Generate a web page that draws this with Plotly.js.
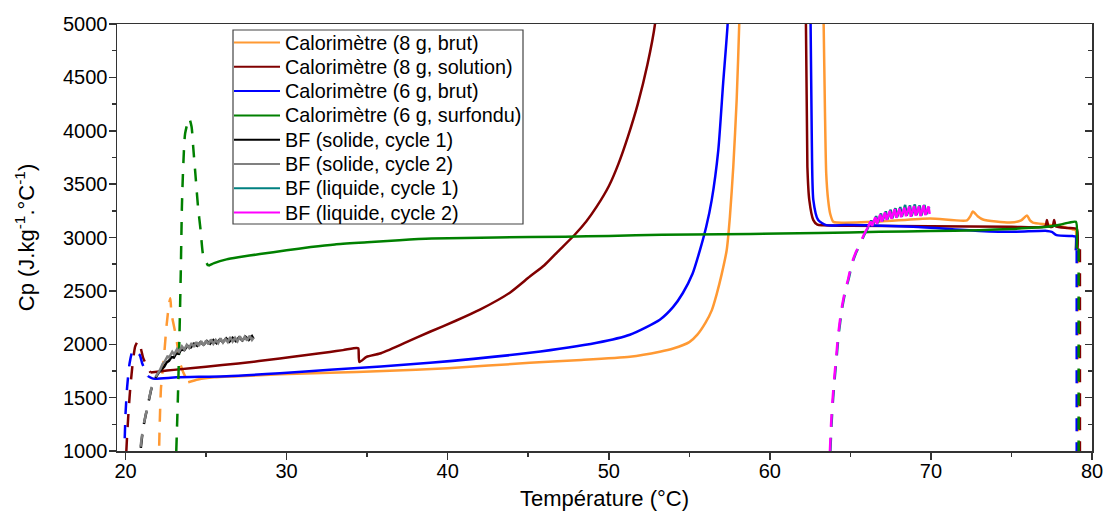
<!DOCTYPE html>
<html><head><meta charset="utf-8">
<script src="https://cdn.plot.ly/plotly-3.0.1.min.js"></script>
<style>html,body{margin:0;padding:0;background:#fff;} #chart{width:1103px;height:519px;}</style>
</head><body><div id="chart"></div>
<script>
// ---------- DATA ----------
const seriesNames = [
  "Calorimètre (8 g, brut)",
  "Calorimètre (8 g, solution)",
  "Calorimètre (6 g, brut)",
  "Calorimètre (6 g, surfondu)",
  "BF (solide, cycle 1)",
  "BF (solide, cycle 2)",
  "BF (liquide, cycle 1)",
  "BF (liquide, cycle 2)"
];
const seriesColors = ["#ff9933", "#800000", "#0000ff", "#008000", "#000000", "#808080", "#008080", "#ff00ff"];

// Calorimètre (8 g, brut)
const orangeDashX = [22.09, 22.12, 22.2, 22.3, 22.38, 22.55, 22.71, 22.78, 22.85, 23.06, 23.27, 23.37, 23.58, 23.89];
const orangeDashY = [1050, 1250, 1588, 1750, 1870, 2180, 2385, 2430, 2290, 2130, 1944, 1832, 1738, 1644];
const orangeX = [23.89, 24.5, 25.5, 27, 29.58, 32.69, 36, 40, 45.1, 48, 51.31, 53.17, 54, 55, 55.5, 56, 56.4, 56.7, 57.0, 57.32, 57.52, 57.73, 57.94, 58.1, 58.25,
  63.2, 63.34, 63.42, 63.5, 63.62, 63.75, 63.94, 64.16, 66.83, 69.94, 72.24, 72.45, 72.6, 72.9, 73.23, 74.9, 75.6, 75.96, 76.15, 76.33, 77.2, 78.2, 78.82, 78.98, 79.0];
const orangeY = [1644, 1670, 1690, 1700, 1719, 1732, 1750, 1775, 1826, 1850, 1883, 1930, 1960, 2020, 2090, 2200, 2320, 2470, 2650, 2881, 3194, 3663, 4288, 5000, 6000,
  6000, 5000, 4200, 3600, 3350, 3220, 3147, 3140, 3150, 3178, 3160, 3200, 3244, 3200, 3169, 3140, 3160, 3207, 3160, 3140, 3122, 3100, 3075, 3070, 2880];
const orangeEndX = [79.12, 79.12];
const orangeEndY = [2880, 1000];

// Calorimètre (8 g, solution)
const redDashX = [20.05, 20.1, 20.2, 20.3, 20.45, 20.6, 20.78, 20.95, 21.1, 21.3, 21.55];
const redDashY = [1000, 1150, 1400, 1600, 1830, 1980, 2031, 1960, 1870, 1803, 1735];
const redX = [21.55, 22.1, 23, 25, 27, 29.58, 31, 32.69, 33.5, 34.34, 34.45, 34.52, 34.96, 35.79, 37.3, 38.9, 40.5, 42.0, 43.86, 45.1, 46.0, 46.78, 47.9, 48.6, 49.26, 50.0, 50.6, 51.2, 51.8, 52.4, 52.87, 53.1,
  62.1, 62.24, 62.33, 62.45, 62.7, 62.95, 63.3, 65, 70, 75, 77.1, 77.2, 77.3, 77.55, 77.65, 77.75, 78.5, 79.05, 79.1];
const redY = [1735, 1745, 1760, 1790, 1820, 1866, 1895, 1928, 1945, 1966, 1962, 1834, 1881, 1913, 2010, 2117, 2220, 2324, 2483, 2634, 2740, 2859, 3028, 3150, 3291, 3480, 3690, 3950, 4250, 4620, 5000, 5400,
  5400, 5000, 3663, 3350, 3163, 3120, 3115, 3110, 3105, 3100, 3105, 3165, 3105, 3100, 3165, 3105, 3090, 3080, 2890];
const redEndX = [79.25, 79.25];
const redEndY = [2890, 1000];

// Calorimètre (6 g, brut)
const blueDashX = [19.95, 20.0, 20.1, 20.25, 20.45, 20.6, 20.89, 21.03, 21.16, 21.3, 21.4];
const blueDashY = [1120, 1350, 1600, 1820, 1945, 1940, 1897, 1822, 1775, 1728, 1700];
const blueX = [21.4, 21.71, 23.17, 26.27, 29.58, 32.69, 38.9, 45.1, 49.26, 51.31, 53.17, 54, 54.6, 55.2, 55.66, 56.05, 56.39, 56.8, 57.1, 57.38, 57.5,
  62.45, 62.53, 62.6, 62.7, 63.0, 63.5, 64.77, 68.9, 73.0, 75.1, 77.2, 77.5, 77.8, 78.8, 78.98, 79.0];
const blueY = [1700, 1678, 1690, 1700, 1728, 1760, 1826, 1920, 2014, 2089, 2230, 2350, 2480, 2660, 2881, 3100, 3350, 3819, 4444, 5000, 5500,
  5500, 5000, 3980, 3350, 3163, 3116, 3116, 3100, 3062, 3053, 3062, 3053, 3022, 3013, 3010, 2880];
const blueEndX = [79.05, 79.05];
const blueEndY = [2880, 1000];

// Calorimètre (6 g, surfondu)
const greenDashX = [23.15, 23.25, 23.35, 23.43, 23.5, 23.58, 23.7, 23.95, 24.1, 24.2, 24.35, 24.5, 24.66, 24.8, 24.92, 25.13];
const greenDashY = [1000, 1500, 2100, 2680, 3290, 3660, 3975, 4116, 4037, 3850, 3569, 3287, 3069, 2850, 2794, 2734];
const greenX = [25.13, 25.5, 26.27, 27, 28.34, 30, 31.5, 33, 35, 37, 39, 43, 47.3, 50, 53.3, 57, 60.63, 63, 66.8, 70, 73.0, 75, 77.2, 78.0, 78.6, 79.0, 79.05];
const greenY = [2734, 2760, 2795, 2815, 2845, 2880, 2910, 2935, 2955, 2975, 2990, 3000, 3008, 3015, 3025, 3030, 3038, 3042, 3053, 3060, 3069, 3080, 3100, 3120, 3141, 3147, 2897];
const greenEndX = [79.17, 79.17];
const greenEndY = [2897, 1000];

// BF (solide, cycle 1)
const blackDashX = [20.95, 21.1, 21.4, 21.61, 21.82, 22.1];
const blackDashY = [1030, 1220, 1440, 1585, 1675, 1745];
const blackX = [22.1, 22.25, 22.4, 22.55, 22.7, 22.85, 23.0, 23.15, 23.3, 23.45, 23.65, 23.85, 24.05, 24.25, 24.45, 24.65, 24.85, 25.05, 25.25, 25.45, 25.65, 25.85, 26.05, 26.25, 26.45, 26.65, 26.85, 27.05, 27.25, 27.45, 27.65, 27.85, 27.95];
const blackY = [1745, 1770, 1790, 1830, 1845, 1880, 1875, 1915, 1910, 1950, 1945, 1985, 1970, 2005, 1985, 2020, 1995, 2030, 2005, 2040, 2010, 2045, 2020, 2055, 2025, 2060, 2030, 2065, 2035, 2070, 2040, 2075, 2050];

// BF (solide, cycle 2)
const grayDashX = [20.93, 21.1, 21.4, 21.61, 21.82, 22.13];
const grayDashY = [1040, 1225, 1444, 1590, 1680, 1757];
const grayX = [22.13, 22.3, 22.42, 22.6, 22.72, 22.9, 23.02, 23.2, 23.32, 23.5, 23.65, 23.8, 23.95, 24.1, 24.25, 24.4, 24.55, 24.7, 24.85, 25.0, 25.15, 25.3, 25.45, 25.6, 25.75, 25.9, 26.05, 26.2, 26.35, 26.5, 26.65, 26.8, 26.95, 27.1, 27.25, 27.4, 27.55, 27.7, 27.85, 27.95];
const grayY = [1757, 1815, 1835, 1885, 1880, 1930, 1905, 1955, 1930, 1980, 1950, 1995, 1965, 2010, 1975, 2020, 1985, 2030, 1990, 2035, 2000, 2045, 2005, 2040, 2010, 2055, 2015, 2050, 2020, 2068, 2025, 2060, 2028, 2075, 2030, 2070, 2035, 2080, 2040, 2060];

// BF (liquide, cycle 1)
const tealDashX = [63.76, 63.83, 63.91, 64.01, 64.13, 64.28, 64.48, 64.68, 64.9, 65.11, 65.38, 65.63, 65.88, 66.13];
const tealDashY = [1000, 1250, 1450, 1650, 1850, 2100, 2330, 2490, 2616, 2757, 2866, 2944, 3030, 3100];
const tealX = [66.13, 66.3, 66.4, 66.6, 66.7, 66.9, 67.0, 67.2, 67.3, 67.5, 67.6, 67.8, 67.9, 68.1, 68.2, 68.4, 68.5, 68.7, 68.8, 69.0, 69.1, 69.3, 69.4, 69.6, 69.7, 69.9];
const tealY = [3100, 3160, 3115, 3200, 3135, 3225, 3155, 3245, 3170, 3260, 3180, 3275, 3190, 3285, 3195, 3305, 3205, 3300, 3200, 3310, 3210, 3300, 3205, 3305, 3215, 3285];

// BF (liquide, cycle 2)
const magentaDashX = [63.73, 63.8, 63.88, 63.98, 64.1, 64.25, 64.45, 64.65, 64.87, 65.08, 65.35, 65.6, 65.85, 66.1];
const magentaDashY = [1000, 1250, 1450, 1650, 1850, 2100, 2330, 2490, 2616, 2757, 2866, 2944, 3030, 3100];
const magentaX = [66.1, 66.25, 66.35, 66.55, 66.65, 66.85, 66.95, 67.15, 67.25, 67.45, 67.55, 67.75, 67.85, 68.05, 68.15, 68.35, 68.45, 68.65, 68.75, 68.95, 69.05, 69.25, 69.35, 69.55, 69.65, 69.85, 69.92];
const magentaY = [3100, 3150, 3110, 3190, 3130, 3215, 3150, 3235, 3165, 3250, 3175, 3265, 3185, 3270, 3190, 3280, 3200, 3290, 3195, 3295, 3205, 3290, 3200, 3300, 3210, 3290, 3220];

// Axes
const xRange = [19.47, 80];
const yRange = [1000, 5000];
const xTitle = "Température (°C)";
const yTitle = "Cp (J.kg<sup>-1</sup>.°C<sup>-1</sup>)";

// ---------- BUILD ----------
const FONT = "Liberation Sans, Arial, Helvetica, sans-serif";
const LW = 2.5;
const DASH = "13px,11px";
const traces = [];
function addLine(x, y, color, dashed, smooth) {
  const line = {color: color, width: LW, dash: dashed ? DASH : "solid"};
  if (smooth) { line.shape = "spline"; line.smoothing = 0.6; }
  traces.push({x: x, y: y, type: "scatter", mode: "lines", showlegend: false, hoverinfo: "skip", line: line});
}
const groups = [
  [orangeDashX, orangeDashY, orangeX, orangeY, orangeEndX, orangeEndY],
  [redDashX, redDashY, redX, redY, redEndX, redEndY],
  [blueDashX, blueDashY, blueX, blueY, blueEndX, blueEndY],
  [greenDashX, greenDashY, greenX, greenY, greenEndX, greenEndY],
  [blackDashX, blackDashY, blackX, blackY],
  [grayDashX, grayDashY, grayX, grayY],
  [tealDashX, tealDashY, tealX, tealY],
  [magentaDashX, magentaDashY, magentaX, magentaY]
];
groups.forEach((g, i) => {
  const c = seriesColors[i];
  const calo = i < 4;
  addLine(g[2], g[3], c, false, calo);
  addLine(g[0], g[1], c, true, true);
  if (g[4]) addLine(g[4], g[5], c, true, false);
});
traces.push({x: [], y: [], yaxis: "y2", type: "scatter", mode: "lines", showlegend: false});

// Plot area in pixels
const L = 117, R = 1092, T = 24, B = 451;
const W = 1103, H = 519;
const px2x = p => (p - L) / (R - L);
const px2y = p => (B - p) / (B - T);

// Manual legend (box + line samples + labels)
const shapes = [];
const annotations = [];
const box = {x0: 233, x1: 523, y0: 30, y1: 224};
shapes.push({type: "rect", xref: "paper", yref: "paper",
  x0: px2x(box.x0), x1: px2x(box.x1), y0: px2y(box.y1), y1: px2y(box.y0),
  line: {color: "#444", width: 1.2}, fillcolor: "rgba(255,255,255,0)", layer: "above"});
seriesNames.forEach((n, i) => {
  const yc = 42.5 + i * 24.3;
  shapes.push({type: "line", xref: "paper", yref: "paper",
    x0: px2x(234), x1: px2x(280), y0: px2y(yc), y1: px2y(yc),
    line: {color: seriesColors[i], width: 2}});
  annotations.push({xref: "paper", yref: "paper", x: px2x(283), y: px2y(yc),
    xanchor: "left", yanchor: "middle", text: n, showarrow: false,
    font: {family: FONT, size: 19.8, color: "#000"}});
});

const axisCommon = {
  showgrid: false, zeroline: false, showline: true, linecolor: "#333", linewidth: 1.5,
  ticks: "outside", ticklen: 7, tickwidth: 1.5, tickcolor: "#333",
  ticklabeloverflow: "allow",
  tickfont: {family: FONT, size: 20, color: "#000"}
};
const layout = {
  width: W, height: H,
  margin: {l: L, r: W - R, t: T, b: H - B, pad: 0},
  paper_bgcolor: "#fff", plot_bgcolor: "#fff",
  showlegend: false,
  xaxis: Object.assign({}, axisCommon, {
    range: xRange, dtick: 10, tick0: 20, mirror: true, ticklabelstandoff: -6,
    minor: {dtick: 5, ticks: "outside", ticklen: 4, tickwidth: 1.5, tickcolor: "#333"},
    title: {text: xTitle, font: {family: FONT, size: 22, color: "#000"}, standoff: 10}
  }),
  yaxis: Object.assign({}, axisCommon, {
    range: yRange, dtick: 500, tick0: 1000, ticklabelstandoff: -3,
    minor: {dtick: 250, ticks: "outside", ticklen: 4, tickwidth: 1.5, tickcolor: "#333"},
    title: {text: yTitle, font: {family: FONT, size: 22, color: "#000"}, standoff: 22}
  }),
  yaxis2: {
    overlaying: "y", side: "right", range: yRange, dtick: 500, tick0: 1000,
    showgrid: false, zeroline: false, showline: true, linecolor: "#333", linewidth: 1.5,
    ticks: "inside", ticklen: 7, tickwidth: 1.5, tickcolor: "#333", showticklabels: false,
    minor: {dtick: 250, ticks: "inside", ticklen: 4, tickwidth: 1.5, tickcolor: "#333"}
  },
  shapes: shapes,
  annotations: annotations
};
Plotly.newPlot("chart", traces, layout, {staticPlot: true, displayModeBar: false});
</script>
</body></html>
